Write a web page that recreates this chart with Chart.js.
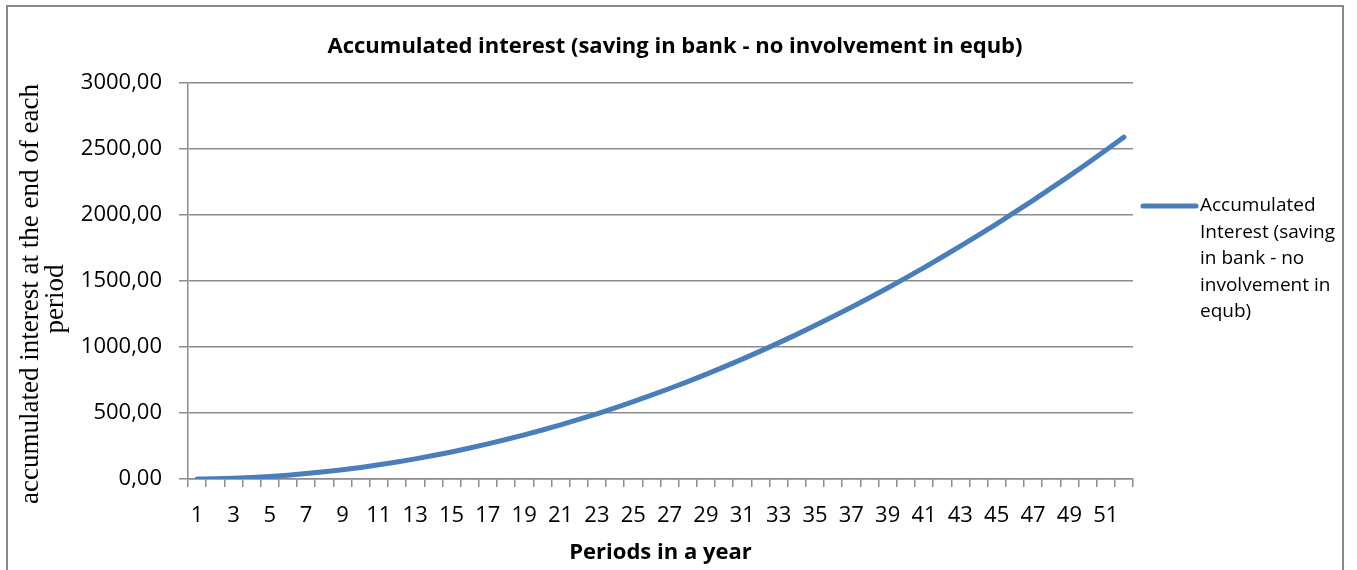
<!DOCTYPE html>
<html>
<head>
<meta charset="utf-8">
<title>Accumulated interest</title>
<script src="https://cdn.jsdelivr.net/npm/chart.js@4/dist/chart.umd.min.js"></script>
<style>
  html, body { margin: 0; padding: 0; background: #fff; }
  #wrap { width: 1357px; height: 570px; }
</style>
</head>
<body>
<div id="wrap"><canvas id="interestChart" width="1357" height="570"></canvas></div>
<script>
// periods 1..52
const periods = [
  1, 2, 3, 4, 5, 6, 7, 8, 9, 10, 11, 12, 13, 14, 15, 16, 17, 18, 19, 20, 21, 22, 23, 24, 25, 26,
  27, 28, 29, 30, 31, 32, 33, 34, 35, 36, 37, 38, 39, 40, 41, 42, 43, 44, 45, 46, 47, 48, 49, 50, 51, 52
];

// accumulated interest at the end of each period
const accumulatedInterest = [
  0.00, 1.95, 5.86, 11.72, 19.53, 29.30, 41.02, 54.69, 70.31, 87.89,
  107.43, 128.91, 152.34, 177.73, 205.08, 234.38, 265.63, 298.83, 333.98, 371.09,
  410.16, 451.17, 494.14, 539.06, 585.94, 634.77, 685.55, 738.28, 792.97, 849.61,
  908.20, 968.75, 1031.25, 1095.70, 1162.11, 1230.47, 1300.78, 1373.05, 1447.27, 1523.44,
  1601.56, 1681.64, 1763.67, 1847.66, 1933.59, 2021.48, 2111.33, 2203.13, 2296.88, 2392.58,
  2490.23, 2589.84
];

const yTicks = [0, 500, 1000, 1500, 2000, 2500, 3000];

const chartTitle = 'Accumulated interest (saving in bank - no involvement in equb)';
const yTitleLines = ['accumulated interest at the end of each', 'period'];
const seriesName = 'Accumulated Interest (saving in bank - no involvement in equb)';
const legendLines = ['Accumulated', 'Interest (saving', 'in bank - no', 'involvement in', 'equb)'];

const lineColor = '#4a7ebb';
const gridColor = '#8c8c8c';
const sansFont = "'Open Sans', 'Noto Sans', sans-serif";
const serifFont = "'Liberation Serif', 'DejaVu Serif', serif";

// gray frame round the whole chart
const framePlugin = {
  id: 'frame',
  beforeDraw(chart) {
    const ctx = chart.ctx;
    ctx.save();
    ctx.fillStyle = '#ffffff';
    ctx.fillRect(0, 0, chart.width, chart.height);
    ctx.strokeStyle = '#8a8a8a';
    ctx.lineWidth = 2;
    ctx.strokeRect(7, 6, 1336, 620);
    ctx.restore();
  }
};

// chart title across the whole frame, and the two-line y axis title
const titlesPlugin = {
  id: 'titles',
  afterDraw(chart) {
    const ctx = chart.ctx;
    ctx.save();
    ctx.fillStyle = '#000';
    ctx.textAlign = 'center';
    ctx.textBaseline = 'middle';
    ctx.font = 'bold 22px ' + sansFont;
    ctx.fillText(chartTitle, 675, 47);

    // rotated: local x runs up the page, local y runs right
    ctx.font = '27px ' + serifFont;
    ctx.rotate(-Math.PI / 2);
    ctx.fillText(yTitleLines[0], -294, 31);
    ctx.fillText(yTitleLines[1], -299, 56);
    ctx.restore();
  }
};

// legend on the right with wrapped text
const sideLegendPlugin = {
  id: 'sideLegend',
  afterDraw(chart) {
    const ctx = chart.ctx;
    const x0 = chart.chartArea.right + 8;
    const y0 = 206;
    ctx.save();
    ctx.strokeStyle = lineColor;
    ctx.lineWidth = 5;
    ctx.lineCap = 'round';
    ctx.beginPath();
    ctx.moveTo(x0 + 2, y0);
    ctx.lineTo(x0 + 55, y0);
    ctx.stroke();
    ctx.fillStyle = '#000';
    ctx.font = '19px ' + sansFont;
    ctx.textBaseline = 'middle';
    ctx.textAlign = 'left';
    legendLines.forEach((line, i) => {
      ctx.fillText(line, x0 + 59, y0 + i * 26.5);
    });
    ctx.restore();
  }
};

const ctx = document.getElementById('interestChart').getContext('2d');

new Chart(ctx, {
  type: 'line',
  data: {
    labels: periods,
    datasets: [{
      label: seriesName,
      data: accumulatedInterest,
      borderColor: lineColor,
      backgroundColor: lineColor,
      borderWidth: 5,
      borderCapStyle: 'round',
      pointRadius: 0,
      pointHoverRadius: 0,
      tension: 0.4,
      cubicInterpolationMode: 'monotone',
      fill: false
    }]
  },
  options: {
    responsive: false,
    animation: false,
    devicePixelRatio: 1,
    layout: { padding: { left: 0, right: 224, top: 83, bottom: 0 } },
    plugins: {
      legend: { display: false },
      tooltip: { enabled: false },
      title: { display: false }
    },
    scales: {
      x: {
        type: 'category',
        offset: true,
        afterFit(scale) { scale.height = 91; },
        grid: {
          offset: true,
          drawOnChartArea: false,
          drawTicks: true,
          tickLength: 8,
          color: gridColor,
          lineWidth: 1.5
        },
        border: { display: true, color: gridColor, width: 1.5 },
        ticks: {
          autoSkip: false,
          maxRotation: 0,
          padding: 16,
          color: '#000',
          font: { family: sansFont, size: 22 },
          callback(value, index) { return index % 2 === 0 ? String(periods[index]) : ''; }
        },
        title: {
          display: true,
          text: 'Periods in a year',
          color: '#000',
          font: { family: sansFont, size: 22, weight: 'bold', lineHeight: 1.2 },
          padding: { top: 0, bottom: 4 }
        }
      },
      y: {
        min: 0,
        max: 3000,
        afterFit(scale) { scale.width = 188; },
        afterBuildTicks(scale) { scale.ticks = yTicks.map(v => ({ value: v })); },
        grid: {
          color: gridColor,
          lineWidth: 1.5,
          drawTicks: true,
          tickLength: 9
        },
        border: { display: true, color: gridColor, width: 1.5 },
        ticks: {
          padding: 17,
          color: '#000',
          font: { family: sansFont, size: 22 },
          callback(value) { return value.toFixed(2).replace('.', ','); }
        },
        title: { display: false }
      }
    }
  },
  plugins: [framePlugin, titlesPlugin, sideLegendPlugin]
});
</script>
</body>
</html>
